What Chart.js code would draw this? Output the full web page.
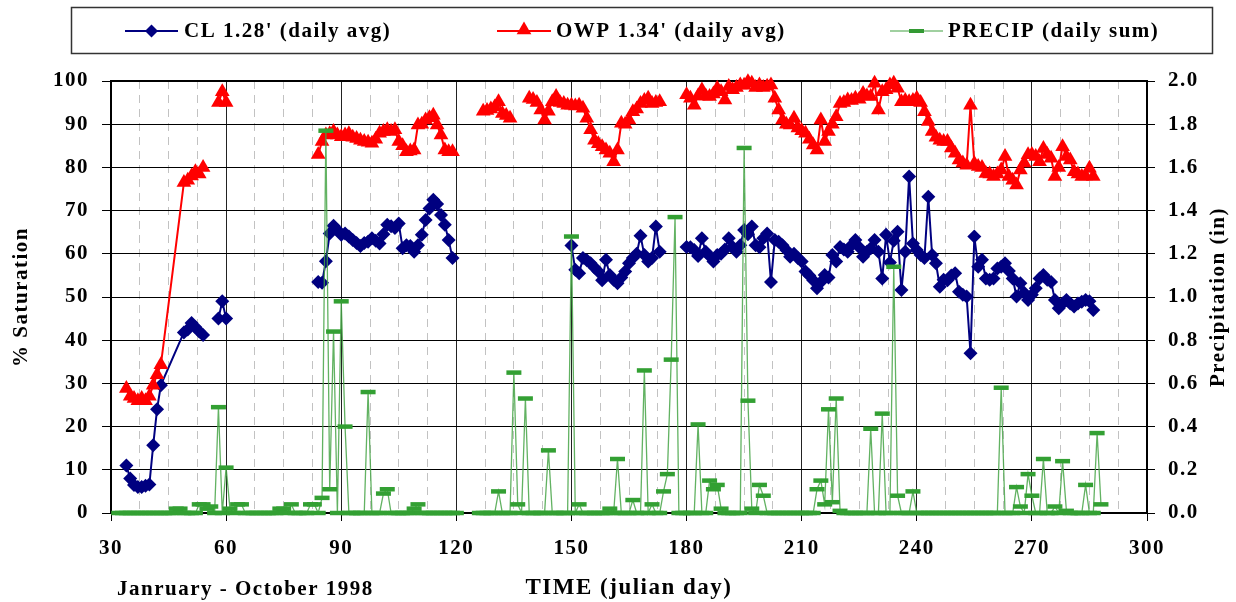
<!DOCTYPE html>
<html>
<head>
<meta charset="utf-8">
<script src="https://cdn.jsdelivr.net/npm/chart.js@4.4.1/dist/chart.umd.min.js"></script>
<style>
  html, body { margin: 0; padding: 0; background: #fff; }
</style>
</head>
<body>
<canvas id="chart" width="1236" height="602"></canvas>
<script>
// runs of julian days: [first, last] = daily readings, single number = break in the line
const clRuns = [[34, 43], [49, 54], 56, [58, 60], 70, [84, 119], 130, [150, 173], 176, [180, 286]];
const clVals = [
  11, 8, 6.5, 6, 6, 6.3, 6.6, 15.7, 24, 29.6,
  41.8, 42.5, 44, 43, 42, 41.2,
  null,
  45, 49, 45,
  null,
  53.5, 53.3, 58.3, 64.7, 66.5, 65.5, 64.4, 64.7, 64, 63.2,
  62.5, 61.8, 62.5, 62.8, 63.6, 63, 62.4, 64.5, 66.7, 66.4,
  66, 67, 61.3, 62, 61.8, 60.5, 62, 64.4, 67.8, 70.5,
  72.5, 71.5, 69, 66.7, 63.2, 59,
  null,
  61.9, 56.3, 55.5, 59, 58.5, 57.8, 56.8, 55.9, 53.9, 58.6,
  55.1, 54, 53.2, 54.5, 55.9, 57.8, 59, 60, 64.2, 59.7,
  58.2, 59, 66.3, 60.5,
  null,
  61.6, 61.5, 60.9, 59.5, 63.6, 60.5, 59.5, 58.2, 59.7, 60,
  61, 63.6, 61.6, 60.5, 62, 65.5, 64.5, 66.3, 62, 61.5,
  63.6, 64.7, 53.5, 63.2, 62.8, 62, 60.9, 59.3, 60, 59,
  58.2, 55.9, 55, 53.9, 52, 53.5, 55.1, 54.5, 59.7, 58.2,
  61.6, 61, 60.5, 62, 63.2, 61.5, 59.3, 60.5, 61.3, 63.2,
  60.5, 54.3, 64.4, 58, 63, 65.1, 51.6, 60.5, 77.9, 62.4,
  60.9, 59.7, 59, 73.2, 59.7, 57.8, 52.4, 54, 53.9, 55,
  55.5, 51.2, 50.5, 50.1, 37, 64, 57, 58.6, 54.3, 54,
  54.3, 56.6, 57, 57.8, 56, 54.3, 50.1, 53.2, 51, 49.3,
  50.5, 52, 54.3, 55.1, 54, 53.5, 49.3, 47.4, 48.5, 49.3,
  48.5, 47.8, 48.5, 48.9, 49.3, 49, 47
];

const owpRuns = [[34, 43], [49, 54], 56, [58, 60], 70, [84, 119], 123, [127, 134], 136, [139, 173], 176, [180, 286]];
const owpVals = [
  28.8, 27, 26.5, 26, 26.5, 26, 27, 29.6, 32, 34.3,
  76.5, 77, 78, 79, 78.5, 80,
  null,
  95, 97.5, 95,
  null,
  83, 86, 87.5, 87.8, 88.3, 87.5, 87.1, 87.5, 87.8, 87,
  86.7, 86.3, 86, 85.8, 85.6, 86.5, 87.9, 88.3, 88.7, 88.3,
  88.7, 86, 85, 83.6, 83.8, 84, 89.8, 90, 91, 91.5,
  92.1, 89.8, 87.5, 84, 83.6, 83.6,
  null,
  93, 93.2, 93.5, 94, 95.2, 92.5, 92, 91.4,
  null,
  96, 95.7, 95, 93.3, 91, 93, 95.2, 96.4, 95, 94.8,
  94.4, 94.4, 94.2, 94.4, 93.7, 91.4, 88.7, 86.3, 85.5, 84.8,
  84, 83.3, 81.3, 84, 90.2, 90, 91, 92.9, 93.5, 94.8,
  95.5, 96, 94.8, 95, 95.2,
  null,
  96.8, 96, 94.4, 96.5, 97.9, 96.5, 96.4, 97, 98.3, 97.5,
  95.6, 98.7, 98, 98.5, 99.1, 99, 99.8, 99.5, 98.5, 99.1,
  98.5, 98.8, 99.1, 96, 93.3, 91, 90, 89.8, 91.4, 89.1,
  88.5, 87.9, 86.5, 85.2, 84, 91, 86, 88.3, 90, 91.7,
  94.8, 95, 95.6, 95.5, 96, 95.8, 97.1, 96.5, 96.4, 99.5,
  93.3, 97.5, 98, 99.1, 99.5, 98.3, 95.2, 95.5, 95.2, 95.5,
  96, 95, 92.9, 90.6, 88.3, 87, 86.3, 86, 86, 84.5,
  83.3, 81.7, 81, 80.5, 94.4, 80.9, 80.2, 80, 78.6, 78.5,
  77.9, 78.5, 79.4, 82.5, 77.9, 77, 75.9, 79.4, 81, 82.9,
  83, 82.5, 81.3, 84.4, 83, 82.1, 77.9, 80, 84.8, 82.5,
  81.7, 79, 78.5, 77.9, 78, 79.8, 77.9
];

const precipRuns = [[32, 120], 123, [126, 288]];
const precipVals = [
  0, 0, 0, 0, 0, 0, 0, 0, 0, 0,
  0, 0, 0, 0, 0, 0.02, 0.02, 0, 0, 0,
  0, 0.04, 0.04, 0.02, 0.03, 0, 0.49, 0, 0.21, 0.02,
  0, 0.04, 0.04, 0, 0, 0, 0, 0, 0, 0,
  0, 0, 0.02, 0.02, 0, 0.04, 0, 0, 0, 0,
  0.04, 0.04, 0, 0.07, 1.77, 0.11, 0.84, 0, 0.98, 0.40,
  0, 0, 0, 0, 0, 0.56, 0, 0, 0, 0.09,
  0.11, 0, 0, 0, 0, 0, 0, 0.02, 0.04, 0,
  0, 0, 0, 0, 0, 0, 0, 0, 0,
  null,
  0, 0, 0, 0, 0, 0.10, 0, 0, 0, 0.65,
  0.04, 0, 0.53, 0, 0, 0, 0, 0, 0.29, 0,
  0, 0, 0, 0, 1.28, 0, 0.04, 0, 0, 0,
  0, 0, 0, 0, 0.02, 0, 0.25, 0, 0, 0,
  0.06, 0, 0, 0.66, 0, 0.04, 0, 0, 0.10, 0.18,
  0.71, 1.37, 0, 0, 0, 0, 0, 0.41, 0, 0,
  0.15, 0.11, 0.13, 0.02, 0, 0, 0, 0, 0, 1.69,
  0.52, 0.02, 0, 0.13, 0.08, 0, 0, 0, 0, 0,
  0, 0, 0, 0, 0, 0, 0, 0, 0.11, 0.15,
  0.04, 0.48, 0.05, 0.53, 0.01, 0, 0, 0, 0, 0,
  0, 0, 0.39, 0, 0, 0.46, 0, 0, 1.14, 0.08,
  0, 0, 0, 0.10, 0, 0, 0, 0, 0, 0,
  0, 0, 0, 0, 0, 0, 0, 0, 0, 0,
  0, 0, 0, 0, 0, 0, 0.58, 0, 0, 0,
  0.12, 0.03, 0, 0.18, 0.08, 0, 0, 0.25, 0, 0,
  0.03, 0, 0.24, 0.01, 0, 0, 0, 0, 0.13, 0,
  0, 0.37, 0.04
];

const dayTicks = [30, 60, 90, 120, 150, 180, 210, 240, 270, 300];
const satTicks = [0, 10, 20, 30, 40, 50, 60, 70, 80, 90, 100];
const precipTicks = ['0.0', '0.2', '0.4', '0.6', '0.8', '1.0', '1.2', '1.4', '1.6', '1.8', '2.0'];

const clLabel = "CL 1.28' (daily avg)";
const owpLabel = "OWP 1.34' (daily avg)";
const precipLabel = 'PRECIP (daily sum)';

function toPoints(runs, vals) {
  const days = [];
  runs.forEach(r => {
    if (Array.isArray(r)) {
      for (let d = r[0]; d <= r[1]; d++) days.push(d);
    } else {
      days.push(r);
    }
  });
  return days.map((d, i) => ({ x: d, y: vals[i] }));
}

const FAMILY = '"Liberation Serif", "Times New Roman", serif';
const tickFont = { family: FAMILY, size: 21, weight: 'bold' };
const SPACING = '1.5px';

const spacingPlugin = {
  id: 'spacing',
  beforeLayout(chart) { chart.ctx.letterSpacing = SPACING; },
  beforeDraw(chart) { chart.ctx.letterSpacing = SPACING; }
};

const framePlugin = {
  id: 'frame',
  beforeDatasetsDraw(chart) {
    const { ctx, chartArea: a } = chart;
    ctx.save();
    ctx.strokeStyle = '#000';
    ctx.lineWidth = 2;
    ctx.strokeRect(a.left, a.top, a.right - a.left, a.bottom - a.top);
    ctx.restore();
  }
};

function diamond(ctx, x, y, r) {
  ctx.beginPath();
  ctx.moveTo(x - r, y); ctx.lineTo(x, y - r); ctx.lineTo(x + r, y); ctx.lineTo(x, y + r);
  ctx.closePath(); ctx.fill();
}
function triangle(ctx, x, y, r) {
  ctx.beginPath();
  ctx.moveTo(x, y - r);
  ctx.lineTo(x + r * 0.866, y + r * 0.5);
  ctx.lineTo(x - r * 0.866, y + r * 0.5);
  ctx.closePath(); ctx.fill();
}

const textPlugin = {
  id: 'texts',
  afterDraw(chart) {
    const ctx = chart.ctx;
    ctx.save();
    ctx.letterSpacing = SPACING;
    ctx.font = 'bold 21px ' + FAMILY;
    ctx.fillStyle = '#000';

    // legend frame
    ctx.strokeStyle = '#333';
    ctx.lineWidth = 1.5;
    ctx.strokeRect(71.5, 7.5, 1141, 46);

    const ly = 31;
    ctx.lineWidth = 2;
    ctx.strokeStyle = '#000080';
    ctx.beginPath(); ctx.moveTo(125, ly); ctx.lineTo(178, ly); ctx.stroke();
    ctx.fillStyle = '#000080';
    diamond(ctx, 151.5, ly, 6.5);

    ctx.strokeStyle = '#ff0000';
    ctx.beginPath(); ctx.moveTo(497, ly); ctx.lineTo(551, ly); ctx.stroke();
    ctx.fillStyle = '#ff0000';
    triangle(ctx, 524, ly - 1, 8.5);

    ctx.strokeStyle = '#80c080';
    ctx.lineWidth = 1.5;
    ctx.beginPath(); ctx.moveTo(890, ly); ctx.lineTo(943, ly); ctx.stroke();
    ctx.strokeStyle = '#339933';
    ctx.lineWidth = 4;
    ctx.beginPath(); ctx.moveTo(909, ly); ctx.lineTo(924, ly); ctx.stroke();

    ctx.fillStyle = '#000';
    ctx.textBaseline = 'middle';
    ctx.textAlign = 'left';
    ctx.fillText(clLabel, 184, ly + 1);
    ctx.fillText(owpLabel, 556, ly + 1);
    ctx.fillText(precipLabel, 948, ly + 1);

    // note under the axis
    ctx.fillText('Janruary - October 1998', 117, 590);

    // right axis title, reading upward
    const a = chart.chartArea;
    ctx.translate(1219, (a.top + a.bottom) / 2);
    ctx.rotate(-Math.PI / 2);
    ctx.textAlign = 'center';
    ctx.fillText('Precipitation (in)', 0, 0);
    ctx.restore();
  }
};

new Chart(document.getElementById('chart'), {
  type: 'line',
  data: {
    datasets: [
      {
        label: clLabel,
        data: toPoints(clRuns, clVals),
        xAxisID: 'x', yAxisID: 'y',
        borderColor: '#000080',
        backgroundColor: '#000080',
        borderWidth: 2,
        pointStyle: 'rectRot',
        pointRadius: 7,
        pointBorderWidth: 0,
        pointBackgroundColor: '#000080',
        tension: 0,
        clip: 10,
        order: 2
      },
      {
        label: owpLabel,
        data: toPoints(owpRuns, owpVals),
        xAxisID: 'x', yAxisID: 'y',
        borderColor: '#ff0000',
        backgroundColor: '#ff0000',
        borderWidth: 2,
        pointStyle: 'triangle',
        pointRadius: 8.5,
        pointBorderWidth: 0,
        pointBackgroundColor: '#ff0000',
        tension: 0,
        clip: 10,
        order: 1
      },
      {
        label: precipLabel,
        data: toPoints(precipRuns, precipVals),
        xAxisID: 'x', yAxisID: 'y1',
        borderColor: 'rgba(70,165,70,0.85)',
        backgroundColor: '#339933',
        borderWidth: 1.3,
        pointStyle: 'line',
        pointRadius: 7.5,
        pointBorderWidth: 4.5,
        pointBorderColor: '#33a033',
        tension: 0,
        clip: 10,
        order: 0
      }
    ]
  },
  options: {
    responsive: false,
    animation: false,
    devicePixelRatio: 1,
    events: [],
    layout: { padding: { top: 81, left: 0, right: 0, bottom: 0 } },
    plugins: {
      legend: { display: false },
      tooltip: { enabled: false }
    },
    scales: {
      x: {
        type: 'linear',
        position: 'bottom',
        min: dayTicks[0],
        max: dayTicks[dayTicks.length - 1],
        afterBuildTicks: s => { s.ticks = dayTicks.map(v => ({ value: v })); },
        ticks: { color: '#000', font: tickFont, padding: 15, autoSkip: false, maxRotation: 0 },
        grid: { color: '#222', lineWidth: 1, tickLength: 8, tickColor: '#000' },
        border: { display: false },
        title: { display: true, text: 'TIME (julian day)', color: '#000', font: { family: FAMILY, size: 23, weight: 'bold' }, padding: { top: 0, bottom: 0 } },
        afterFit: s => { s.height = 89; }
      },
      xm: {
        type: 'linear',
        position: 'top',
        min: 30,
        max: 300,
        ticks: { display: false, stepSize: 7.5, maxTicksLimit: 100 },
        grid: {
          drawTicks: false,
          lineWidth: 1,
          color: c => (c.tick && c.tick.value % 30 === 0) ? 'rgba(0,0,0,0)' : '#c2c2c2'
        },
        border: { display: false, dash: [8, 6] },
        afterFit: s => { s.height = 0; }
      },
      y: {
        type: 'linear',
        position: 'left',
        min: satTicks[0],
        max: satTicks[satTicks.length - 1],
        afterBuildTicks: s => { s.ticks = satTicks.map(v => ({ value: v })); },
        ticks: { color: '#000', font: tickFont, padding: 13 },
        grid: { color: '#000', lineWidth: 1, tickLength: 9, tickColor: '#000' },
        border: { display: false },
        title: { display: true, text: '% Saturation', color: '#000', font: tickFont, padding: { top: 9, bottom: 0 } },
        afterFit: s => { s.width = 111; }
      },
      y1: {
        type: 'linear',
        position: 'right',
        min: 0,
        max: 2,
        afterBuildTicks: s => { s.ticks = precipTicks.map(v => ({ value: parseFloat(v) })); },
        ticks: { color: '#000', font: tickFont, padding: 13, callback: v => v.toFixed(1) },
        grid: { drawOnChartArea: false, tickLength: 8, tickColor: '#000', color: '#000' },
        border: { display: false },
        afterFit: s => { s.width = 89; }
      }
    }
  },
  plugins: [spacingPlugin, framePlugin, textPlugin]
});
</script>
</body>
</html>
